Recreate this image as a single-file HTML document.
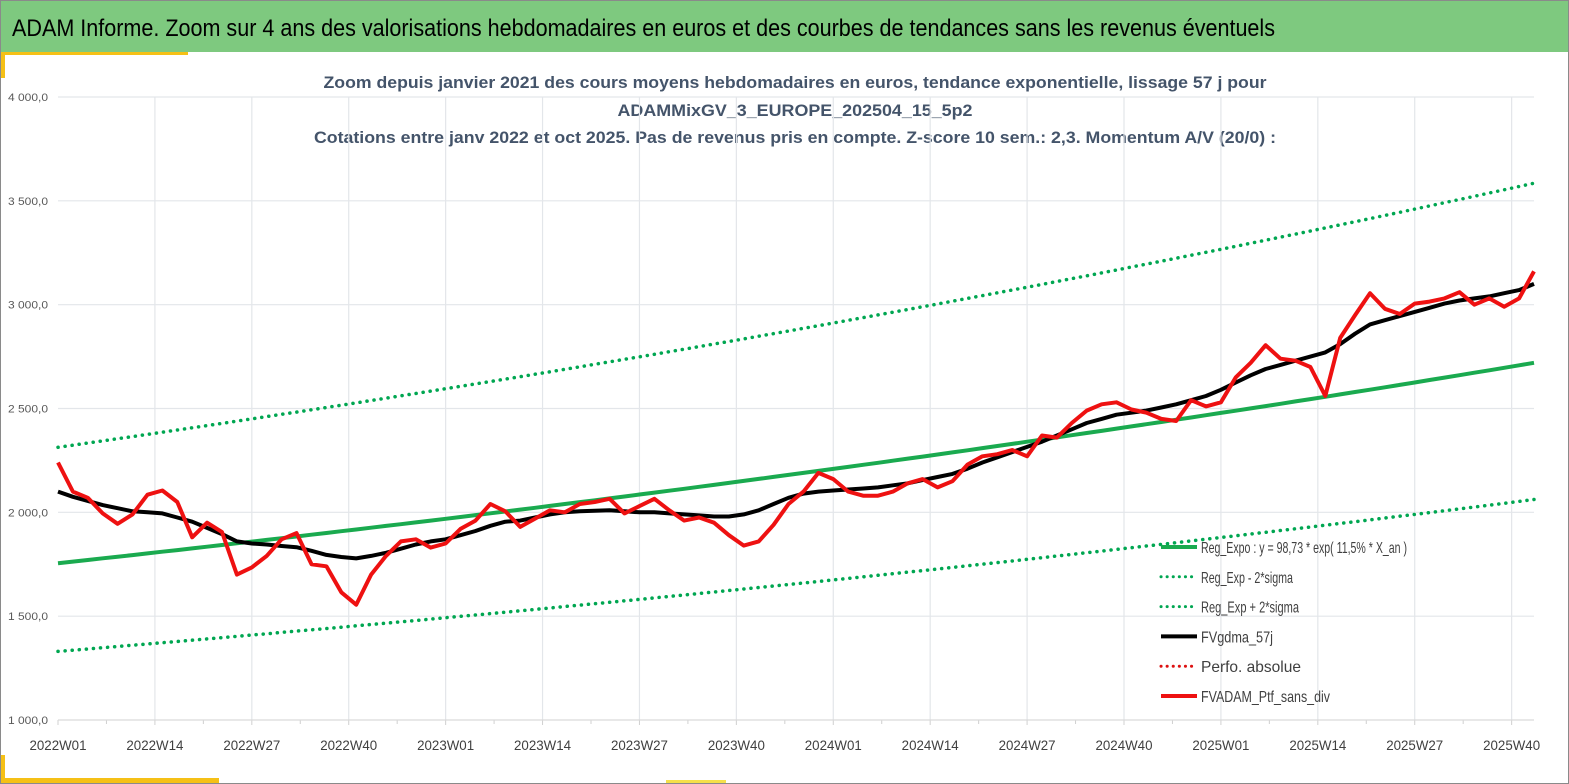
<!DOCTYPE html>
<html><head><meta charset="utf-8">
<style>
html,body{margin:0;padding:0;background:#fff;}
svg{display:block;font-family:"Liberation Sans",sans-serif;}
</style></head>
<body>
<svg id="chart" width="1569" height="784" viewBox="0 0 1569 784">
  <rect x="0.5" y="0.5" width="1568" height="783" fill="#fff" stroke="#8a8a8a"/>
  <rect x="1" y="1" width="1567" height="51" fill="#7ec97f"/>
  <text x="12" y="36" font-size="24" fill="#000" textLength="1263" lengthAdjust="spacingAndGlyphs">ADAM Informe. Zoom sur 4 ans des valorisations hebdomadaires en euros et des courbes de tendances sans les revenus éventuels</text>
  <rect x="1" y="52" width="187" height="3" fill="#f5c016"/>
  <rect x="1" y="52" width="4" height="26" fill="#f5c016"/>
  <rect x="1" y="778" width="218" height="5" fill="#f5c016"/>
  <rect x="1" y="755" width="4" height="28" fill="#f5c016"/>
  <rect x="666" y="780" width="60" height="3" fill="#f5e04a"/>
  <text x="795" y="88" font-size="17" font-weight="bold" fill="#44546a" text-anchor="middle" textLength="943" lengthAdjust="spacingAndGlyphs">Zoom depuis janvier 2021 des cours moyens hebdomadaires  en euros, tendance exponentielle, lissage 57 j pour</text>
  <text x="795" y="116" font-size="17" font-weight="bold" fill="#44546a" text-anchor="middle" textLength="355" lengthAdjust="spacingAndGlyphs">ADAMMixGV_3_EUROPE_202504_15_5p2</text>
  <text x="795" y="143" font-size="17" font-weight="bold" fill="#44546a" text-anchor="middle" textLength="962" lengthAdjust="spacingAndGlyphs">Cotations  entre janv 2022 et oct 2025. Pas de revenus pris en compte. Z-score 10 sem.: 2,3. Momentum A/V (20/0) :</text>
  <g id="grid"></g>
  <g id="series"></g>
  <g id="axes"></g>
  <g id="legend"></g>
</svg>
<script>
// ---- data ----
const xTickLabels = ["2022W01","2022W14","2022W27","2022W40","2023W01","2023W14","2023W27","2023W40","2024W01","2024W14","2024W27","2024W40","2025W01","2025W14","2025W27","2025W40"];
const yTickValues = [1000,1500,2000,2500,3000,3500,4000];
const yTickLabels = ["1 000,0","1 500,0","2 000,0","2 500,0","3 000,0","3 500,0","4 000,0"];
// biweekly samples (week index = 2*i)
const portfolioValues = [2240,2100,2070,1995,1945,1990,2085,2105,2050,1880,1950,1905,1700,1735,1790,1870,1900,1750,1740,1615,
1555,1700,1790,1860,1870,1830,1850,1920,1960,2040,2005,1930,1970,2010,2000,2040,2050,2065,1995,2030,
2065,2010,1960,1975,1950,1890,1840,1860,1940,2040,2100,2190,2160,2100,2080,2080,2100,2140,2160,2120,
2150,2230,2270,2280,2300,2270,2370,2360,2430,2490,2520,2530,2495,2480,2450,2440,2540,2510,2530,2650,
2720,2805,2740,2730,2700,2560,2840,2950,3055,2980,2955,3005,3015,3030,3060,3000,3030,2990,3030,3160];
const smoothedValues = [2100,2075,2055,2035,2020,2005,2000,1995,1975,1955,1925,1895,1860,1850,1845,1838,1832,1815,1795,1785,
1778,1790,1805,1825,1845,1860,1870,1890,1910,1935,1955,1960,1975,1990,2000,2005,2008,2010,2005,2000,
2000,1995,1990,1985,1980,1980,1990,2010,2040,2070,2090,2100,2105,2110,2115,2120,2130,2140,2155,2170,
2185,2210,2240,2265,2290,2315,2340,2370,2400,2430,2450,2470,2480,2490,2505,2520,2540,2560,2590,2625,
2660,2690,2710,2730,2750,2770,2810,2860,2905,2925,2945,2965,2985,3005,3020,3030,3040,3055,3070,3100];
const regStart = 1755;
const regEnd = 2720;
const sigmaUpFactor = 1.318;
const sigmaDownFactor = 0.758;

// ---- axes ----
const X0=58, X1=1534, YTOP=97, YBOT=720, VMIN=1000, VMAX=4000;
const nPts = portfolioValues.length;
const weeksTotal = (nPts-1)*2;
const xWeek = w => X0 + (X1-X0)*w/weeksTotal;
const xIdx = i => xWeek(i*2);
const yVal = v => YBOT - (v-VMIN)/(VMAX-VMIN)*(YBOT-YTOP);
const NS="http://www.w3.org/2000/svg";
function mk(tag, attrs, parent){const e=document.createElementNS(NS,tag);for(const k in attrs)e.setAttribute(k,attrs[k]);parent.appendChild(e);return e;}
const grid=document.getElementById('grid'), axes=document.getElementById('axes'), series=document.getElementById('series'), legend=document.getElementById('legend');

yTickValues.forEach((v,i)=>{
  const y=yVal(v);
  if(i>0){const l=mk('line',{x1:X0,x2:X1,y1:y,y2:y,stroke:'#e3e6ea','stroke-width':1.2},grid);
  
  }
  const t=mk('text',{x:48,y:y+4,'font-size':11,fill:'#595959','text-anchor':'end',textLength:40,lengthAdjust:'spacingAndGlyphs'},axes);
  t.textContent=yTickLabels[i];
  
  
});
xTickLabels.forEach((lab,i)=>{
  const x=xWeek(i*13);
  if(i>0){const l=mk('line',{x1:x,x2:x,y1:YTOP,y2:YBOT,stroke:'#e3e6ea','stroke-width':1.2},grid);
  
  }
  const tk=mk('line',{x1:x,x2:x,y1:YBOT,y2:YBOT+5,stroke:'#d0d0d0'},axes);
  
  
  const xm=xWeek(i*13+6.5);
  if(xm<X1){const mt=mk('line',{x1:xm,x2:xm,y1:YBOT,y2:YBOT+4,stroke:'#d0d0d0'},axes);
  
  }
  const t=mk('text',{x:x,y:750,'font-size':14,fill:'#404040','text-anchor':'middle',textLength:57,lengthAdjust:'spacingAndGlyphs'},axes);
  t.textContent=lab;
  
  
});
const base=mk('line',{x1:X0,x2:X1,y1:YBOT,y2:YBOT,stroke:'#d9d9d9','stroke-width':1.2},axes);



function regAt(i){return regStart*Math.pow(regEnd/regStart, i/(nPts-1));}
function pathFrom(fn){let d='';for(let i=0;i<nPts;i++){d+=(i?'L':'M')+xIdx(i).toFixed(1)+','+yVal(fn(i)).toFixed(1);}return d;}

const up=mk('path',{d:pathFrom(i=>regAt(i)*sigmaUpFactor),fill:'none',stroke:'#00a651','stroke-width':3.5,'stroke-dasharray':'0.1 7','stroke-linecap':'round'},series);


const dn=mk('path',{d:pathFrom(i=>regAt(i)*sigmaDownFactor),fill:'none',stroke:'#00a651','stroke-width':3.5,'stroke-dasharray':'0.1 7','stroke-linecap':'round'},series);


const rg=mk('path',{d:pathFrom(regAt),fill:'none',stroke:'#1aaa4f','stroke-width':4},series);


const sm=mk('path',{d:pathFrom(i=>smoothedValues[i]),fill:'none',stroke:'#000','stroke-width':4,'stroke-linejoin':'round'},series);


const pf=mk('path',{d:pathFrom(i=>portfolioValues[i]),fill:'none',stroke:'#ee1111','stroke-width':4,'stroke-linejoin':'round'},series);



// ---- legend ----
const legendLabels=["Reg_Expo : y = 98,73 * exp( 11,5% *  X_an )","Reg_Exp - 2*sigma","Reg_Exp + 2*sigma","FVgdma_57j","Perfo. absolue","FVADAM_Ptf_sans_div"];
const legendColors=["#1aaa4f","#00a651","#00a651","#000","#dd1111","#ee1111"];
const legendDotted=[false,true,true,false,true,false];
const legendWidths=[206,92,98,72,100,129];
legendLabels.forEach((lab,i)=>{
  const y=547+i*29.8;
  const ln=mk('line',{x1:1161,x2:1197,y1:y,y2:y,stroke:legendColors[i],'stroke-width':legendDotted[i]?3:4,'stroke-dasharray':legendDotted[i]?'0.1 6':'none','stroke-linecap':legendDotted[i]?'round':'butt'},legend);
  
  
  const t=mk('text',{x:1201,y:y+6,'font-size':16,fill:'#404040',textLength:legendWidths[i],lengthAdjust:'spacingAndGlyphs'},legend);
  t.textContent=lab;
  
  
});
</script>
</body></html>
